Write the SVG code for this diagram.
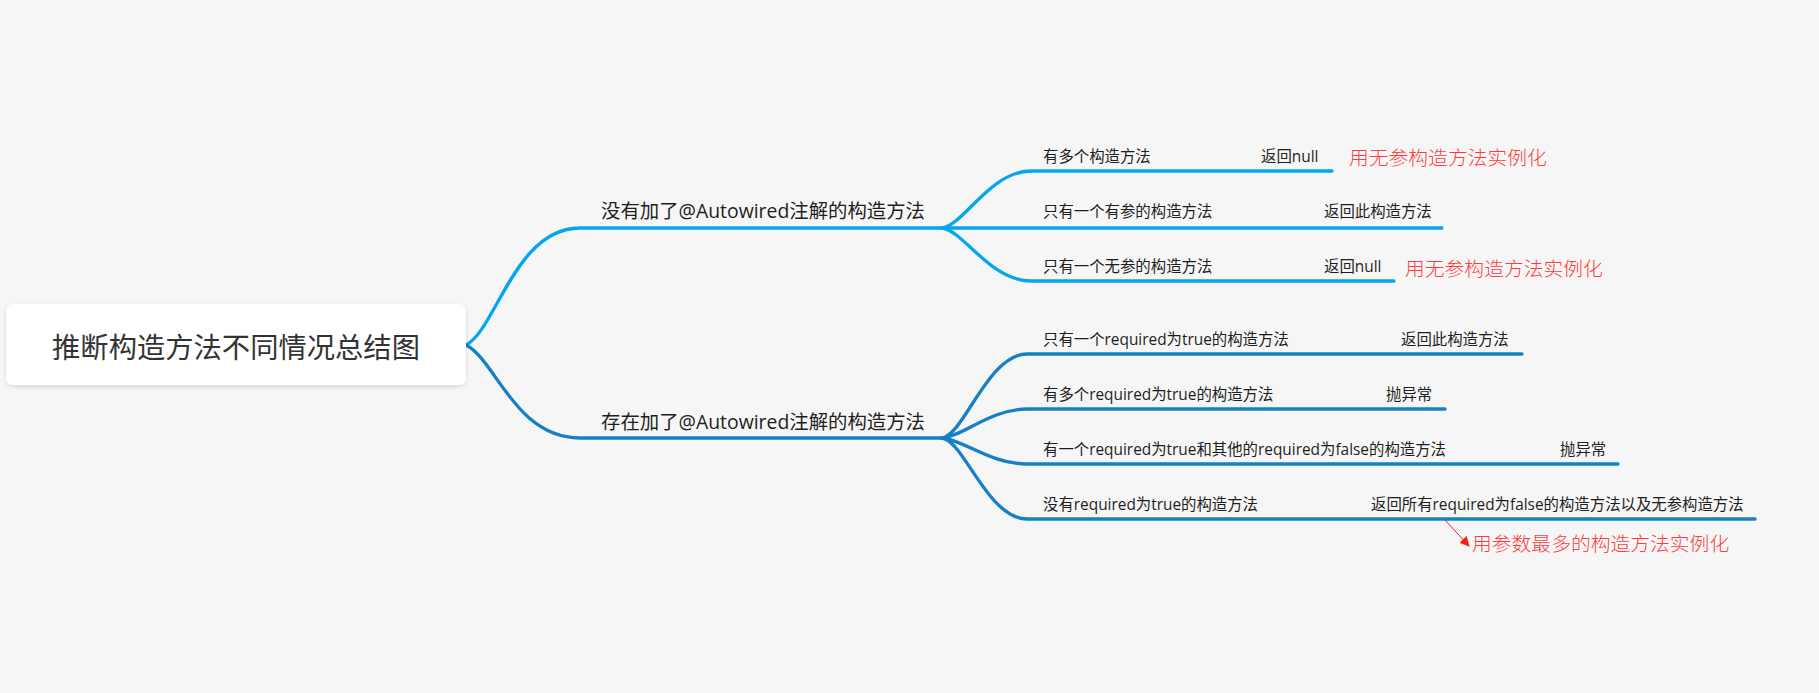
<svg xmlns="http://www.w3.org/2000/svg" width="1819" height="693" viewBox="0 0 1819 693">
<style>
.t{font-family:"Open Sans","Noto Sans CJK SC",sans-serif;font-size:15.4px;fill:#1e1e1e}
.lb{font-family:"Open Sans","Noto Sans CJK SC",sans-serif;font-size:19.4px;fill:#1e1e1e}
.rt{font-family:"Noto Sans CJK SC",sans-serif;font-size:28.3px;fill:#333333}
.red{font-family:"Noto Sans CJK SC",sans-serif;font-size:19.8px;fill:#ff3b3b;font-weight:300}
.b1{fill:none;stroke:#05a7ec;stroke-width:3.3;stroke-linecap:round}
.b2{fill:none;stroke:#1680c6;stroke-width:3.3;stroke-linecap:round}
</style>
<defs>
<filter id="sh" x="-10%" y="-20%" width="120%" height="150%">
<feDropShadow dx="0" dy="2" stdDeviation="2" flood-color="#000" flood-opacity="0.12"/>
</filter>
<marker id="ar" viewBox="0 0 10 10" refX="9" refY="5" markerWidth="10" markerHeight="10" markerUnits="userSpaceOnUse" orient="auto">
<path d="M0,0 L10,5 L0,10 z" fill="#ff1a1a"/>
</marker>
</defs>
<rect width="1819" height="693" fill="#f6f6f6"/>
<g id="connectors">
<path class="b1" d="M466,345 C496,330 515,228 580,228 L942,228"/>
<path class="b2" d="M466,345 C496,360 515,438 580,438 L942,438"/>
<path class="b1" d="M942,228 C964,225 990,171 1031,171 L1332,171"/>
<path class="b1" d="M942,228 L1442,228"/>
<path class="b1" d="M942,228 C964,231 990,281 1031,281 L1394,281"/>
<path class="b2" d="M942,438 C964,435 988,354 1027,354 L1522,354"/>
<path class="b2" d="M942,438 C964,436 990,409 1027,409 L1445,409"/>
<path class="b2" d="M942,438 C964,440 990,464 1027,464 L1618,464"/>
<path class="b2" d="M942,438 C964,441 988,519 1027,519 L1755,519"/>
<line x1="1445" y1="520" x2="1469" y2="546" stroke="#ff1a1a" stroke-width="1" marker-end="url(#ar)"/>
</g>
<g id="root">
<rect x="6" y="304" width="460" height="81" rx="7" fill="#ffffff" filter="url(#sh)"/>
<text class="rt" x="236" y="358" text-anchor="middle">推断构造方法不同情况总结图</text>
</g>
<g id="branch1">
<text class="lb" x="601" y="218">没有加了@Autowired注解的构造方法</text>
</g>
<g id="branch2">
<text class="lb" x="601" y="429">存在加了@Autowired注解的构造方法</text>
</g>
<g id="b1c1">
<text class="t" x="1043" y="161.5">有多个构造方法</text>
<text class="t" x="1261" y="161.5">返回null</text>
<text class="red" x="1349" y="164.5">用无参构造方法实例化</text>
</g>
<g id="b1c2">
<text class="t" x="1043" y="217">只有一个有参的构造方法</text>
<text class="t" x="1324" y="217">返回此构造方法</text>
</g>
<g id="b1c3">
<text class="t" x="1043" y="271.5">只有一个无参的构造方法</text>
<text class="t" x="1324" y="271.5">返回null</text>
<text class="red" x="1405" y="276">用无参构造方法实例化</text>
</g>
<g id="b2c1">
<text class="t" x="1043" y="344.5">只有一个required为true的构造方法</text>
<text class="t" x="1401" y="344.5">返回此构造方法</text>
</g>
<g id="b2c2">
<text class="t" x="1043" y="399.5">有多个required为true的构造方法</text>
<text class="t" x="1386" y="399.5">抛异常</text>
</g>
<g id="b2c3">
<text class="t" x="1043" y="454.5">有一个required为true和其他的required为false的构造方法</text>
<text class="t" x="1560" y="454.5">抛异常</text>
</g>
<g id="b2c4">
<text class="t" x="1043" y="509.5">没有required为true的构造方法</text>
<text class="t" x="1371" y="509.5">返回所有required为false的构造方法以及无参构造方法</text>
<text class="red" x="1472" y="550.5">用参数最多的构造方法实例化</text>
</g>
</svg>
